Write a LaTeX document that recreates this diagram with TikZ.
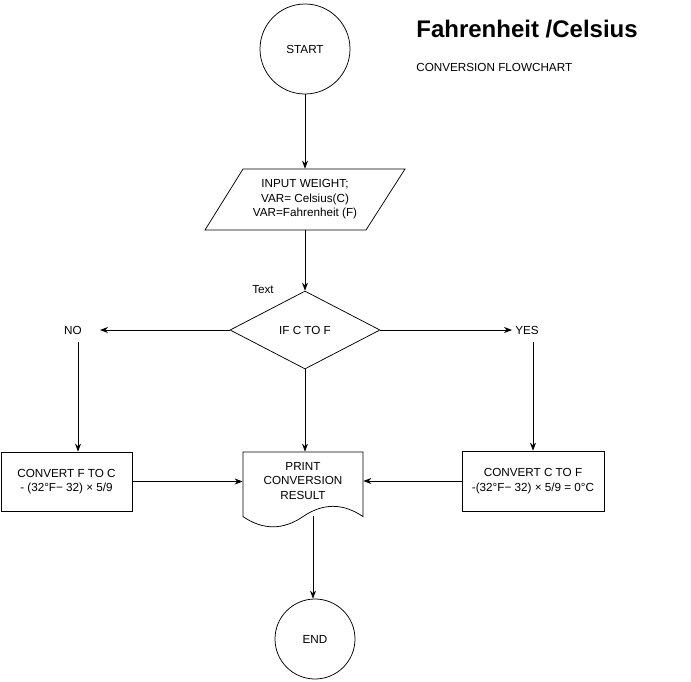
\documentclass[tikz,border=0pt]{standalone}
\usepackage{fontspec}
\setmainfont{Liberation Sans}
\usetikzlibrary{positioning, arrows.meta, shapes.geometric}
\tikzstyle{term} = [circle, draw, minimum size=90pt, inner sep=0pt]
\tikzstyle{proc} = [rectangle, draw, align=center, inner sep=0pt]
\tikzstyle{lbl} = [font=\fontsize{11.7}{14.5}\selectfont, align=center]

\begin{document}
\begin{tikzpicture}[x=1pt, y=-1pt, >={Stealth[length=8pt, width=6pt]}, line width=0.75pt, every node/.style={lbl}]

    \useasboundingbox (0,0) rectangle (691,681);

    \node[term] (start) at (305,49) {START};
    \node[minimum height=61pt] (input) at (305,199.5) {INPUT WEIGHT;\\VAR= Celsius(C)\\VAR=Fahrenheit (F)};
    \draw (205,230) -- (366,230) -- (405,169) -- (243,169) -- cycle;
    \node[diamond, draw, minimum width=150pt, minimum height=78pt, inner sep=0pt] (dec) at (305,330) {IF C TO F};
    \node (txt) at (263,290) {Text};
    \node (no) at (73,330) {NO};
    \node (yes) at (527,330) {YES};
    \node[proc, minimum width=131pt, minimum height=59pt] (f2c) at (66.5,481.5) {CONVERT F TO C\\- (32°F− 32) × 5/9};
    \node[proc, minimum width=142pt, minimum height=60pt] (c2f) at (533,481) {CONVERT C TO F\\-(32°F− 32) × 5/9 = 0°C};
    \node[minimum width=120pt, minimum height=58pt] (print) at (303,481) {PRINT\\CONVERSION\\RESULT};
    \draw (243,452) -- (363,452) -- (363,516.6)
        .. controls (343,502.9) and (323,502.9) .. (303,516.6)
        .. controls (283,530.2) and (263,530.2) .. (243,516.6) -- cycle;
    \node[term, minimum size=80pt] (end) at (315,639) {END};

    \node[anchor=base west, inner sep=0pt, font=\bfseries\fontsize{24}{28}\selectfont] (title) at (416,37) {Fahrenheit /Celsius};
    \node[anchor=base west, inner sep=0pt] (sub) at (416,71) {CONVERSION FLOWCHART};

    \coordinate (noend) at (100,330);
    \coordinate (yesend) at (512,330);
    \coordinate (nodown) at (78,342);
    \coordinate (yesdown) at (533,342);
    \coordinate (printout) at (313,516);

    \path[->]
        (start) edge (input)
        (input) edge (dec)
        (dec.west) edge (noend)
        (dec.east) edge (yesend)
        (nodown) edge (nodown |- f2c.north)
        (yesdown) edge (c2f.north)
        (dec.south) edge (dec.south |- print.north)
        (f2c.east) edge (f2c.east -| print.west)
        (c2f.west) edge (c2f.west -| print.east)
        (printout) edge (printout |- end.north)
    ;

\end{tikzpicture}
\end{document}
